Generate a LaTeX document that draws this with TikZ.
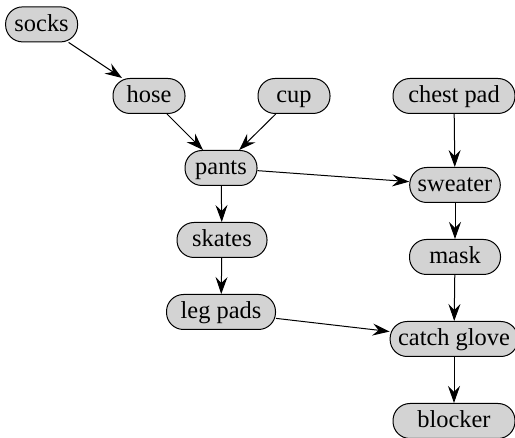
\documentclass[tikz,border=0pt]{standalone}
\usepackage{fontspec}
\setmainfont{Liberation Serif}
\usetikzlibrary{arrows.meta}
\definecolor{padgray}{HTML}{D3D3D3}
\tikzset{
  gear/.style={draw, fill=padgray, rounded corners=8.5pt, line width=0.5pt,
    minimum width=36pt, minimum height=17.5pt, inner xsep=4pt, inner ysep=0pt,
    text height=9pt, text depth=2pt,
    font=\fontsize{12.2}{14}\selectfont},
  dress/.style={-{Stealth[length=8.5pt,width=6pt,inset=3pt]}, line width=0.5pt}
}
\begin{document}
\begin{tikzpicture}
    \useasboundingbox (0,0) rectangle (257.5pt,-219pt);
    \begin{scope}[every node/.style={gear}]
      \node (socks) at (20.8pt,-12.2pt) {socks};
      \node (hose) at (74.5pt,-48pt) {hose};
      \node (cup) at (147pt,-48pt) {cup};
      \node[minimum width=61pt] (chestpad) at (227pt,-48pt) {chest pad};
      \node (pants) at (110.5pt,-84pt) {pants};
      \node[minimum width=45pt] (sweater) at (227.5pt,-92.5pt) {sweater};
      \node[minimum width=45pt] (skates) at (111pt,-120pt) {skates};
      \node[minimum width=45.5pt] (mask) at (227.5pt,-128.5pt) {mask};
      \node[minimum width=54.5pt] (legpads) at (110.5pt,-156pt) {leg pads};
      \node[minimum width=61pt] (catchglove) at (227pt,-169.5pt) {catch glove};
      \node[minimum width=61pt] (blocker) at (227pt,-210.5pt) {blocker};
    \end{scope}

    \draw [dress] (socks) -- (hose);
    \draw [dress] (hose) -- (pants);
    \draw [dress] (cup) -- (pants);
    \draw [dress] (pants) -- (skates);
    \draw [dress] (pants) -- (sweater);
    \draw [dress] (chestpad) -- (sweater);
    \draw [dress] (skates) -- (legpads);
    \draw [dress] (sweater) -- (mask);
    \draw [dress] (mask) -- (catchglove);
    \draw [dress] (legpads) -- (catchglove);
    \draw [dress] (catchglove) -- (blocker);
\end{tikzpicture}
\end{document}
